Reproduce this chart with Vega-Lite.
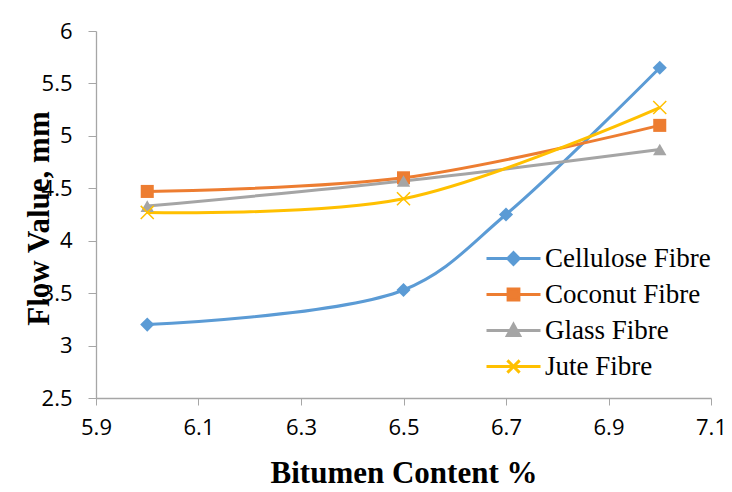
{
  "$schema": "https://vega.github.io/schema/vega-lite/v6.json",
  "width": 615,
  "height": 367,
  "autosize": {"type": "none"},
  "padding": {"left": 96, "top": 31, "right": 21, "bottom": 94},
  "background": "white",
  "config": {"view": {"stroke": null}},
  "data": {"values": [
    {"fibre": "Cellulose Fibre", "content": 6.0, "flow": 3.2},
    {"fibre": "Cellulose Fibre", "content": 6.5, "flow": 3.53},
    {"fibre": "Cellulose Fibre", "content": 6.7, "flow": 4.25},
    {"fibre": "Cellulose Fibre", "content": 7.0, "flow": 5.65},
    {"fibre": "Coconut Fibre", "content": 6.0, "flow": 4.47},
    {"fibre": "Coconut Fibre", "content": 6.5, "flow": 4.6},
    {"fibre": "Coconut Fibre", "content": 7.0, "flow": 5.1},
    {"fibre": "Glass Fibre", "content": 6.0, "flow": 4.33},
    {"fibre": "Glass Fibre", "content": 6.5, "flow": 4.57},
    {"fibre": "Glass Fibre", "content": 7.0, "flow": 4.87},
    {"fibre": "Jute Fibre", "content": 6.0, "flow": 4.27},
    {"fibre": "Jute Fibre", "content": 6.5, "flow": 4.4},
    {"fibre": "Jute Fibre", "content": 7.0, "flow": 5.27}
  ]},
  "encoding": {
    "x": {"field": "content", "type": "quantitative",
      "scale": {"domain": [5.9, 7.1], "nice": false, "zero": false},
      "axis": {"values": [5.9, 6.1, 6.3, 6.5, 6.7, 6.9, 7.1], "format": ".1f", "grid": false, "labelFlush": false,
        "domainColor": "#A6A6A6", "tickColor": "#A6A6A6", "tickSize": 7, "domainWidth": 1.3,
        "labelFont": "Open Sans", "labelFontSize": 22, "labelColor": "#000000", "labelPadding": 12,
        "title": "Bitumen Content %", "titleFont": "Liberation Serif", "titleFontSize": 31, "titleFontWeight": "bold",
        "titleColor": "#000000", "titleBaseline": "alphabetic", "titleY": 84}},
    "y": {"field": "flow", "type": "quantitative",
      "scale": {"domain": [2.5, 6], "nice": false, "zero": false},
      "axis": {"values": [2.5, 3, 3.5, 4, 4.5, 5, 5.5, 6], "format": ".1~f", "grid": false, "labelFlush": false,
        "domainColor": "#A6A6A6", "tickColor": "#A6A6A6", "tickSize": 8, "domainWidth": 1.3,
        "labelFont": "Open Sans", "labelFontSize": 22, "labelColor": "#000000", "labelPadding": 16,
        "title": "Flow Value, mm", "titleFont": "Liberation Serif", "titleFontSize": 31, "titleFontWeight": "bold",
        "titleColor": "#000000", "titleAngle": -90, "titleBaseline": "alphabetic", "titleAlign": "center",
        "titleX": -48, "titleY": 187}},
    "color": {"field": "fibre", "type": "nominal",
      "scale": {"domain": ["Cellulose Fibre", "Coconut Fibre", "Glass Fibre", "Jute Fibre"],
                "range": ["#5B9BD5", "#ED7D31", "#A5A5A5", "#FFC000"]}}
  },
  "layer": [
    {"mark": {"type": "line", "interpolate": "catmull-rom", "strokeWidth": 3},
     "encoding": {"color": {"field": "fibre", "type": "nominal",
       "legend": {"title": null, "orient": "none", "legendX": 398, "legendY": 208, "padding": 0,
         "symbolSize": 1296, "rowPadding": 3, "labelOffset": 12,
         "labelFont": "Liberation Serif", "labelFontSize": 27, "labelColor": "#000000", "labelLimit": 300,
         "symbolStrokeWidth": 3,
         "encode": {"symbols": {"update": {
           "shape": {"signal": "datum.value == 'Cellulose Fibre' ? 'M-1.5,0L1.5,0M-0.32,0L0,-0.32L0.32,0L0,0.32Z' : datum.value == 'Coconut Fibre' ? 'M-1.5,0L1.5,0M-0.3,-0.3L0.3,-0.3L0.3,0.3L-0.3,0.3Z' : datum.value == 'Glass Fibre' ? 'M-1.5,0L1.5,0M0,-0.34L0.34,0.28L-0.34,0.28Z' : 'M-1.5,0L1.5,0M-0.34,-0.34L0.34,0.34M-0.34,0.34L0.34,-0.34'"},
           "fill": {"signal": "scale('color', datum.value)"},
           "stroke": {"signal": "scale('color', datum.value)"},
           "strokeWidth": {"value": 3},
           "opacity": {"value": 1}
         }}}}}}},
    {"transform": [{"filter": "datum.fibre == 'Cellulose Fibre'"}],
     "mark": {"type": "point", "shape": "diamond", "filled": true, "size": 200, "opacity": 1}},
    {"transform": [{"filter": "datum.fibre == 'Coconut Fibre'"}],
     "mark": {"type": "point", "shape": "square", "filled": true, "size": 170, "opacity": 1}},
    {"transform": [{"filter": "datum.fibre == 'Glass Fibre'"}],
     "mark": {"type": "point", "shape": "triangle-up", "filled": true, "size": 180, "opacity": 1}},
    {"transform": [{"filter": "datum.fibre == 'Jute Fibre'"}],
     "mark": {"type": "point", "shape": "M-1,-1L1,1M-1,1L1,-1", "filled": false, "size": 170, "strokeWidth": 1.5, "opacity": 1}}
  ]
}
